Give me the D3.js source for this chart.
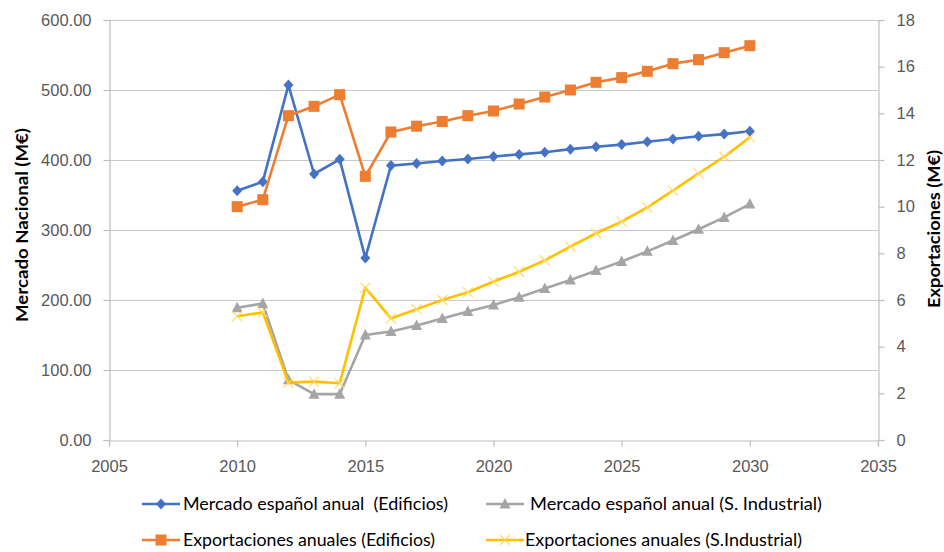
<!DOCTYPE html>
<html>
<head>
<meta charset="utf-8">
<script src="https://cdn.jsdelivr.net/npm/d3@7"></script>
<style>
  html, body { margin: 0; padding: 0; background: #fff; }
  svg { display: block; font-family: Lato, "Open Sans", sans-serif; }
  .legend-text { white-space: pre; }
</style>
</head>
<body>
<svg id="chart" width="944" height="552"></svg>
<script>
// Years of the series
const years = [2010, 2011, 2012, 2013, 2014, 2015, 2016, 2017, 2018, 2019, 2020,
               2021, 2022, 2023, 2024, 2025, 2026, 2027, 2028, 2029, 2030];

// Domestic market (left axis, M€)
const mercadoEdificios = [356, 369, 507, 380, 401, 260, 392, 395, 398.5, 401.5, 405,
                          408, 411, 415.5, 419, 422, 426, 430, 434, 437, 441];
const mercadoIndustrial = [189, 195, 86, 65.5, 65.5, 150, 155, 163.5, 173.5, 183.5, 193,
                           204, 216.5, 228.5, 242, 255, 269.5, 285, 301, 318, 337];

// Exports (right axis, M€)
const exportEdificios = [10.0, 10.3, 13.9, 14.3, 14.8, 11.3, 13.2, 13.45, 13.65, 13.9, 14.1,
                         14.4, 14.7, 15.0, 15.33, 15.53, 15.8, 16.13, 16.3, 16.6, 16.9];
const exportIndustrial = [5.3, 5.47, 2.46, 2.5, 2.43, 6.53, 5.21, 5.61, 6.0, 6.33, 6.79,
                          7.21, 7.7, 8.29, 8.86, 9.36, 9.97, 10.69, 11.43, 12.14, 12.97];

// Axis ticks
const xTicks = [2005, 2010, 2015, 2020, 2025, 2030, 2035];
const leftTicks = [0, 100, 200, 300, 400, 500, 600];
const rightTicks = [0, 2, 4, 6, 8, 10, 12, 14, 16, 18];

const labels = {
  mercadoEdificios: "Mercado español anual  (Edificios)",
  mercadoIndustrial: "Mercado español anual (S. Industrial)",
  exportEdificios: "Exportaciones anuales (Edificios)",
  exportIndustrial: "Exportaciones anuales (S.Industrial)",
  left: "Mercado Nacional (M€)",
  right: "Exportaciones (M€)"
};

const svg = d3.select("#chart");
const plot = { left: 109, right: 878, top: 20, bottom: 440 };

const x = d3.scaleLinear().domain([2005, 2035]).range([plot.left, plot.right]);
const yL = d3.scaleLinear().domain([0, 600]).range([plot.bottom, plot.top]);
const yR = d3.scaleLinear().domain([0, 18]).range([plot.bottom, plot.top]);

const axisColor = "#bfbfbf";
const textColor = "#595959";

// Horizontal gridlines
svg.append("g")
  .selectAll("line")
  .data(leftTicks.filter(d => d > 0))
  .join("line")
  .attr("x1", plot.left).attr("x2", plot.right)
  .attr("y1", d => Math.round(yL(d)) + 0.5).attr("y2", d => Math.round(yL(d)) + 0.5)
  .attr("stroke", "#c8c8c8").attr("stroke-width", 1.2);

function styleAxis(g) {
  g.selectAll(".domain").attr("stroke", axisColor).attr("stroke-width", 1.2);
  g.selectAll(".tick line").attr("stroke", axisColor).attr("stroke-width", 1.2);
  g.selectAll(".tick text").attr("fill", textColor).style("font-size", "16.5px");
}

// Bottom axis
svg.append("g")
  .attr("transform", `translate(0,${plot.bottom + 0.5})`)
  .call(d3.axisBottom(x).tickValues(xTicks).tickFormat(d3.format("d")).tickSizeOuter(0).tickSize(6).tickPadding(14))
  .call(styleAxis);

// Left axis
svg.append("g")
  .attr("transform", `translate(${plot.left + 0.5},0)`)
  .call(d3.axisLeft(yL).tickValues(leftTicks).tickFormat(d3.format(".2f")).tickSizeOuter(0).tickSize(6).tickPadding(12))
  .call(styleAxis);

// Right axis
svg.append("g")
  .attr("transform", `translate(${plot.right + 0.5},0)`)
  .call(d3.axisRight(yR).tickValues(rightTicks).tickFormat(d3.format("d")).tickSizeOuter(0).tickSize(6).tickPadding(12))
  .call(styleAxis);

// Axis titles
svg.append("text")
  .attr("transform", `translate(28,225) rotate(-90)`)
  .attr("text-anchor", "middle")
  .attr("font-weight", "bold").style("font-size", "17px").attr("fill", "#000")
  .attr("textLength", 194).attr("lengthAdjust", "spacingAndGlyphs")
  .text(labels.left);
svg.append("text")
  .attr("transform", `translate(940,229) rotate(-90)`)
  .attr("text-anchor", "middle")
  .attr("font-weight", "bold").style("font-size", "17px").attr("fill", "#000")
  .attr("textLength", 158).attr("lengthAdjust", "spacingAndGlyphs")
  .text(labels.right);

// Series definitions
const series = [
  { key: "mercadoEdificios", values: mercadoEdificios, y: yL, color: "#4472C4", marker: "diamond" },
  { key: "mercadoIndustrial", values: mercadoIndustrial, y: yL, color: "#A5A5A5", marker: "triangle" },
  { key: "exportEdificios", values: exportEdificios, y: yR, color: "#ED7D31", marker: "square" },
  { key: "exportIndustrial", values: exportIndustrial, y: yR, color: "#FFC000", marker: "cross" }
];

function drawMarker(g, type, color) {
  if (type === "diamond") {
    g.append("path").attr("d", "M0,-5.5L5,0L0,5.5L-5,0Z").attr("fill", color);
  } else if (type === "square") {
    g.append("rect").attr("x", -5.5).attr("y", -5.5).attr("width", 11).attr("height", 11).attr("fill", color);
  } else if (type === "triangle") {
    g.append("path").attr("d", "M0,-6L5.5,4.5L-5.5,4.5Z").attr("fill", color);
  } else if (type === "cross") {
    g.append("path").attr("d", "M-5,-5L5,5M-5,5L5,-5").attr("stroke", "#FFD966").attr("stroke-width", 1.2).attr("fill", "none");
  }
}

// Draw order: left-axis series first, then exports
const drawOrder = ["mercadoIndustrial", "mercadoEdificios", "exportEdificios", "exportIndustrial"];
drawOrder.forEach(k => {
  const s = series.find(d => d.key === k);
  const g = svg.append("g");
  const line = d3.line().x((d, i) => x(years[i])).y(d => s.y(d));
  g.append("path")
    .datum(s.values)
    .attr("d", line)
    .attr("fill", "none")
    .attr("stroke", s.color)
    .attr("stroke-width", 2.6)
    .attr("stroke-linejoin", "round");
  g.selectAll("g.pt")
    .data(s.values)
    .join("g")
    .attr("class", "pt")
    .attr("transform", (d, i) => `translate(${x(years[i])},${s.y(d)})`)
    .each(function() { drawMarker(d3.select(this), s.marker, s.color); });
});

// Legend
const legendItems = [
  { key: "mercadoEdificios", lx: 142, tx: 183, y: 504 },
  { key: "mercadoIndustrial", lx: 486, tx: 530, y: 504 },
  { key: "exportEdificios", lx: 142, tx: 183, y: 540 },
  { key: "exportIndustrial", lx: 486, tx: 525, y: 540 }
];
const legendWidths = {
  mercadoEdificios: 265, mercadoIndustrial: 292, exportEdificios: 252, exportIndustrial: 277
};
legendItems.forEach(item => {
  const s = series.find(d => d.key === item.key);
  const g = svg.append("g");
  g.append("line")
    .attr("x1", item.lx).attr("x2", item.lx + 38)
    .attr("y1", item.y).attr("y2", item.y)
    .attr("stroke", s.color).attr("stroke-width", 2.6);
  const m = g.append("g").attr("transform", `translate(${item.lx + 19},${item.y})`);
  drawMarker(m, s.marker, s.color);
  g.append("text")
    .attr("class", "legend-text")
    .attr("x", item.tx).attr("y", item.y + 6)
    .attr("fill", "#000")
    .style("font-size", "17px")
    .attr("textLength", legendWidths[item.key])
    .attr("lengthAdjust", "spacingAndGlyphs")
    .text(labels[item.key]);
});
</script>
</body>
</html>
